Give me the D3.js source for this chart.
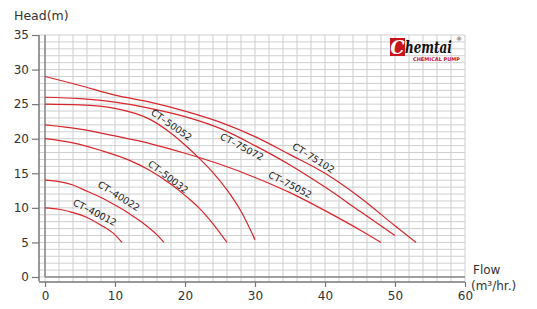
<!DOCTYPE html>
<html>
<head>
<meta charset="utf-8">
<script src="https://cdn.jsdelivr.net/npm/d3@7"></script>
<style>
  body { margin: 0; background: #fff; }
  text { font-family: "DejaVu Sans", sans-serif; }
</style>
</head>
<body>
<div id="chart"></div>
<script>
// pump curves: flow (m3/hr) vs head (m)
const ct40012 = [[0, 10], [2, 9.8], [4, 9.3], [6, 8.6], [8, 7.5], [10, 6.1], [11, 5]];
const ct40022 = [[0, 14], [2, 13.8], [4, 13.3], [6, 12.4], [8, 11.5], [10, 10.4], [12, 9.2], [14, 7.8], [16, 6.1], [17, 5]];
const ct50032 = [[0, 20], [4, 19.4], [8, 18.3], [12, 16.9], [15, 15.4], [18, 13.4], [20, 11.8], [22, 10], [24, 7.7], [26, 5]];
const ct50052 = [[0, 25], [5, 24.9], [10, 24.4], [15, 22.8], [18, 20.8], [20, 19.1], [22, 17.2], [24, 15.1], [26, 12.6], [28, 9.5], [30, 5.4]];
const ct75052 = [[0, 22], [5, 21.4], [10, 20.4], [15, 19.3], [20, 17.9], [25, 16.3], [30, 14.4], [35, 12.2], [40, 9.6], [45, 6.8], [48, 5]];
const ct75072 = [[0, 26], [5, 25.8], [10, 25.3], [15, 24.4], [20, 23.2], [25, 21.5], [30, 19], [35, 16.2], [40, 13], [45, 9.5], [50, 6]];
const ct75102 = [[0, 29], [5, 27.7], [10, 26.3], [15, 25.3], [20, 24], [25, 22.4], [30, 20.3], [35, 17.7], [40, 15], [45, 11.5], [50, 7.4], [53, 5]];

const seriesNames = ["CT–40012", "CT–40022", "CT–50032", "CT–50052", "CT–75052", "CT–75072", "CT–75102"];
const seriesData = [ct40012, ct40022, ct50032, ct50052, ct75052, ct75072, ct75102];

// where each name sits along its curve: [flow, head, angle]
const labelSpots = [[6.9, 8.9, 27], [10.3, 11.3, 32], [17.3, 14.1, 37], [17.8, 21.6, 35], [34.8, 12.9, 27], [27.9, 18.4, 28], [38.1, 16.8, 32]];

const xTicks = [0, 10, 20, 30, 40, 50, 60];
const yTicks = [0, 5, 10, 15, 20, 25, 30, 35];

const W = 537, H = 309;
const svg = d3.select("#chart").append("svg")
    .attr("width", W)
    .attr("height", H);

const x = d3.scaleLinear().domain([0, 60]).range([45, 465]);
const y = d3.scaleLinear().domain([0, 35]).range([277, 35]);

const spineX = 39, spineY = 282;

// grid
const grid = svg.append("g");
grid.selectAll(".vg")
    .data(d3.range(0, 61, 2))
    .enter().append("line")
    .attr("x1", d => x(d)).attr("x2", d => x(d))
    .attr("y1", y(35)).attr("y2", spineY)
    .attr("stroke", "#cfcfcf").attr("stroke-width", 1);
grid.selectAll(".hg")
    .data(d3.range(0, 36, 1))
    .enter().append("line")
    .attr("x1", spineX).attr("x2", x(60))
    .attr("y1", d => y(d)).attr("y2", d => y(d))
    .attr("stroke", "#cfcfcf").attr("stroke-width", 1);

// frame lines at zero
svg.append("line")
    .attr("x1", x(0)).attr("x2", x(0)).attr("y1", y(35)).attr("y2", y(0))
    .attr("stroke", "#888").attr("stroke-width", 1.5);
svg.append("line")
    .attr("x1", x(0)).attr("x2", x(60)).attr("y1", y(0)).attr("y2", y(0))
    .attr("stroke", "#888").attr("stroke-width", 1.5);

// axes (offset from the plot)
const xAxis = svg.append("g")
    .attr("transform", "translate(0," + spineY + ")")
    .call(d3.axisBottom(x).tickValues(xTicks).tickSize(5).tickPadding(4).tickSizeOuter(0));
const yAxis = svg.append("g")
    .attr("transform", "translate(" + spineX + ",0)")
    .call(d3.axisLeft(y).tickValues(yTicks).tickSize(7).tickPadding(3).tickSizeOuter(0));

[xAxis, yAxis].forEach(a => {
    a.select(".domain").attr("stroke", "#777").attr("stroke-width", 1.5);
    a.selectAll(".tick line").attr("stroke", "#777").attr("stroke-width", 1.2);
    a.selectAll(".tick text").attr("fill", "#333").attr("font-size", "12px")
        .style("font-family", "DejaVu Sans, sans-serif");
});
xAxis.select(".domain").attr("d", "M" + spineX + ",0H" + x(60));
yAxis.select(".domain").attr("d", "M0," + y(35) + "V" + (spineY - 0.7));

// axis titles
svg.append("text").attr("x", 14).attr("y", 20)
    .attr("font-size", "12.5px").attr("fill", "#333").text("Head(m)");
svg.append("text").attr("x", 473).attr("y", 274)
    .attr("font-size", "12px").attr("fill", "#333").text("Flow");
svg.append("text").attr("x", 471).attr("y", 290)
    .attr("font-size", "12px").attr("fill", "#333").text("(m³/hr.)");

// curves
const line = d3.line()
    .x(d => x(d[0]))
    .y(d => y(d[1]))
    .curve(d3.curveMonotoneX);

svg.selectAll(".curve")
    .data(seriesData)
    .enter().append("path")
    .attr("class", "curve")
    .attr("d", line)
    .attr("fill", "none")
    .attr("stroke", "#d8262c")
    .attr("stroke-width", 1.2);

svg.selectAll(".clabel")
    .data(seriesNames)
    .enter().append("text")
    .attr("class", "clabel")
    .attr("text-anchor", "middle")
    .attr("font-size", "9.5px")
    .attr("fill", "#222")
    .attr("transform", (d, i) => {
        const s = labelSpots[i];
        return "translate(" + x(s[0]) + "," + y(s[1]) + ") rotate(" + s[2] + ")";
    })
    .text(d => d);

// logo
const logo = svg.append("g").attr("transform", "translate(390,38)");
logo.append("rect").attr("x", 0).attr("y", 0).attr("width", 15).attr("height", 18).attr("fill", "#c8141c");
logo.append("text").attr("x", 7.5).attr("y", 15.5).attr("text-anchor", "middle")
    .attr("font-size", "18px").attr("font-weight", "bold").attr("font-style", "italic")
    .attr("fill", "#fff").style("font-family", "DejaVu Serif, serif").text("C");
logo.append("text").attr("transform", "translate(15,15) scale(1,1.4)")
    .attr("font-size", "12px").attr("font-weight", "bold").attr("font-style", "italic")
    .attr("fill", "#111")
    .style("font-family", "DejaVu Serif, serif").text("hemtai");
logo.append("text").attr("x", 23).attr("y", 23)
    .attr("font-size", "5px").attr("font-weight", "bold")
    .attr("fill", "#c8141c").attr("textLength", 47).attr("lengthAdjust", "spacingAndGlyphs")
    .text("CHEMICAL PUMP");
logo.append("text").attr("x", 66).attr("y", 3)
    .attr("font-size", "6px").attr("fill", "#333").text("®");
</script>
</body>
</html>
